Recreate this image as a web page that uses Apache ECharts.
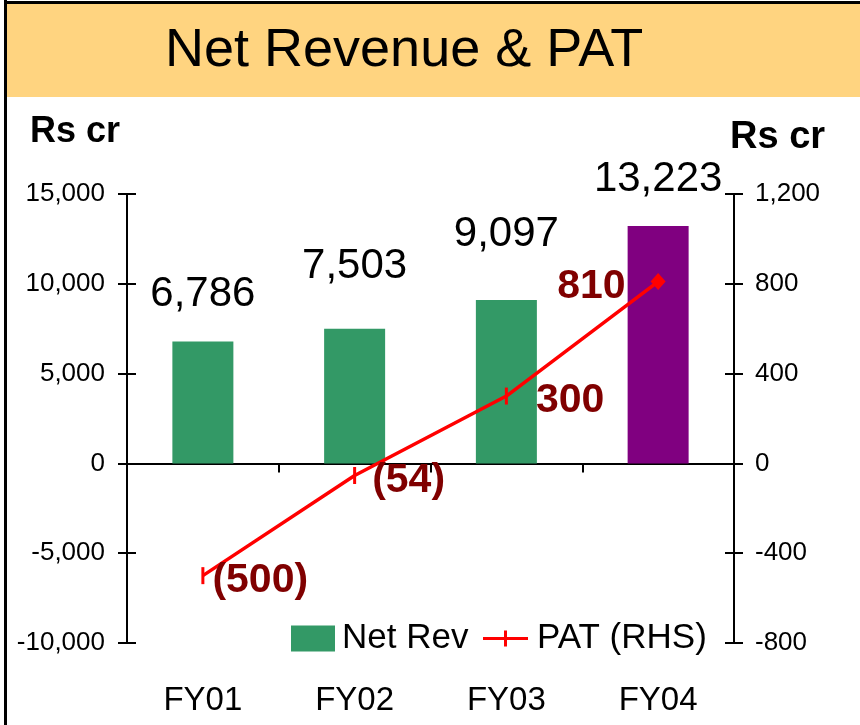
<!DOCTYPE html>
<html>
<head>
<meta charset="utf-8">
<script src="https://cdn.jsdelivr.net/npm/echarts@6/dist/echarts.min.js"></script>
<style>
  html, body { margin: 0; padding: 0; background: #fff; }
  #chart { width: 860px; height: 725px; }
</style>
</head>
<body>
<div id="chart"></div>
<script>
  // data
  var years = ['FY01', 'FY02', 'FY03', 'FY04'];
  var netRev = [6786, 7503, 9097, 13223];
  var pat = [-500, -54, 300, 810];
  var leftTicks = { min: -10000, max: 15000, interval: 5000 };
  var rightTicks = { min: -800, max: 1200, interval: 400 };

  var font = '"Liberation Sans", Arial, sans-serif';

  function fmt(v) {
    return Math.abs(v).toString().replace(/\B(?=(\d{3})+(?!\d))/g, ',');
  }
  function fmtAxis(v) {
    return (v < 0 ? '-' : '') + fmt(v);
  }

  // per bar label gap and colour (last bar is highlighted)
  var barGap = [26, 41, 45, 25];
  var barColor = ['#339966', '#339966', '#339966', '#800080'];
  // PAT label placement
  var patPos = ['right', 'right', 'right', 'left'];
  var patGap = [8, 16, 28, 25];

  var barData = netRev.map(function (v, i) {
    return {
      value: v,
      itemStyle: { color: barColor[i] },
      label: { distance: barGap[i] }
    };
  });

  var patData = pat.map(function (v, i) {
    var last = i === pat.length - 1;
    return {
      value: v,
      symbol: last ? 'diamond' : 'rect',
      symbolSize: last ? [15, 17] : [3, 17],
      label: { position: patPos[i], distance: patGap[i] }
    };
  });

  var myChart = echarts.init(document.getElementById('chart'));

  var baseX = {
    type: 'category',
    data: years,
    axisLine: { onZero: true, onZeroAxisIndex: 0, lineStyle: { color: '#000', width: 2 } },
    axisLabel: { show: false },
    splitLine: { show: false }
  };

  var option = {
    animation: false,
    backgroundColor: '#fff',
    graphic: [
      { type: 'rect', shape: { x: 7, y: 4, width: 860, height: 93 }, style: { fill: '#FFD480' }, z: -1 },
      { type: 'rect', shape: { x: 4, y: 0, width: 3, height: 725 }, style: { fill: '#000' } },
      { type: 'rect', shape: { x: 4, y: 1, width: 860, height: 3 }, style: { fill: '#000' } },
      {
        type: 'text', left: 165, top: 24,
        style: {
          text: 'Net Revenue & PAT',
          font: '54px ' + font,
          fill: '#000'
        }
      }
    ],
    grid: { left: 127, right: 126, top: 194, bottom: 82 },
    legend: [
      {
        data: ['Net Rev'],
        left: 291, top: 621, padding: 0,
        icon: 'rect', itemWidth: 44, itemHeight: 26,
        textStyle: { fontSize: 35, fontFamily: font, color: '#000', padding: [2, 0, 0, 2] }
      },
      {
        data: [{ name: 'PAT (RHS)', icon: 'path://M0,6.5h45v3h-45z M21,0h3v16h-3z' }],
        left: 483, top: 621, padding: 0,
        itemWidth: 45, itemHeight: 16,
        itemStyle: { color: '#ff0000' },
        textStyle: { fontSize: 35, fontFamily: font, color: '#000', padding: [2, 0, 0, 4] }
      }
    ],
    xAxis: [
      Object.assign({}, baseX, { axisTick: { show: true, inside: false, length: 9, lineStyle: { color: '#000', width: 2 } } }),
      Object.assign({}, baseX, { axisTick: { show: true, inside: true, length: 9, lineStyle: { color: '#000', width: 2 } } }),
      {
        type: 'category', data: years, position: 'bottom',
        axisLine: { show: false, onZero: false }, axisTick: { show: false },
        axisLabel: { fontSize: 33, fontFamily: font, color: '#000', margin: 41 }
      }
    ],
    yAxis: [
      {
        type: 'value', position: 'left',
        min: leftTicks.min, max: leftTicks.max, interval: leftTicks.interval,
        name: 'Rs cr', nameLocation: 'end', nameGap: 44,
        nameTextStyle: { fontSize: 36, fontWeight: 'bold', fontFamily: font, color: '#000', align: 'right', padding: [0, 7, 0, 0] },
        axisLine: { show: true, lineStyle: { color: '#000', width: 2 } },
        axisTick: { show: true, length: 9, lineStyle: { color: '#000', width: 2 } },
        axisLabel: { fontSize: 26, fontFamily: font, color: '#000', margin: 22, padding: [4, 0, 0, 0], formatter: fmtAxis },
        splitLine: { show: false }
      },
      {
        type: 'value', position: 'right',
        min: rightTicks.min, max: rightTicks.max, interval: rightTicks.interval,
        name: 'Rs cr', nameLocation: 'end', nameGap: 37,
        nameTextStyle: { fontSize: 38, fontWeight: 'bold', fontFamily: font, color: '#000', align: 'left', padding: [0, 0, 0, -4] },
        axisLine: { show: true, lineStyle: { color: '#000', width: 2 } },
        axisTick: { show: true, length: 9, lineStyle: { color: '#000', width: 2 } },
        axisLabel: { fontSize: 26, fontFamily: font, color: '#000', margin: 21, padding: [4, 0, 0, 0], formatter: fmtAxis },
        splitLine: { show: false }
      },
      {
        type: 'value', position: 'left',
        min: leftTicks.min, max: leftTicks.max, interval: leftTicks.interval,
        axisLine: { show: false }, axisLabel: { show: false }, splitLine: { show: false },
        axisTick: { show: true, inside: true, length: 9, lineStyle: { color: '#000', width: 2 } }
      },
      {
        type: 'value', position: 'right',
        min: rightTicks.min, max: rightTicks.max, interval: rightTicks.interval,
        axisLine: { show: false }, axisLabel: { show: false }, splitLine: { show: false },
        axisTick: { show: true, inside: true, length: 9, lineStyle: { color: '#000', width: 2 } }
      }
    ],
    series: [
      {
        name: 'Net Rev',
        type: 'bar',
        xAxisIndex: 0, yAxisIndex: 0,
        barWidth: 61,
        itemStyle: { color: '#339966' },
        label: {
          show: true, position: 'top',
          fontSize: 42, fontFamily: font, color: '#000',
          formatter: function (p) { return fmt(p.value); }
        },
        data: barData
      },
      {
        name: 'PAT (RHS)',
        type: 'line',
        xAxisIndex: 0, yAxisIndex: 1,
        lineStyle: { color: '#ff0000', width: 3.5 },
        itemStyle: { color: '#ff0000' },
        label: {
          show: true, offset: [0, 5],
          fontSize: 41, fontWeight: 'bold', fontFamily: font, color: '#800000',
          formatter: function (p) { return p.value < 0 ? '(' + fmt(p.value) + ')' : fmt(p.value); }
        },
        z: 5,
        data: patData
      }
    ]
  };

  option && myChart.setOption(option);
</script>
</body>
</html>
